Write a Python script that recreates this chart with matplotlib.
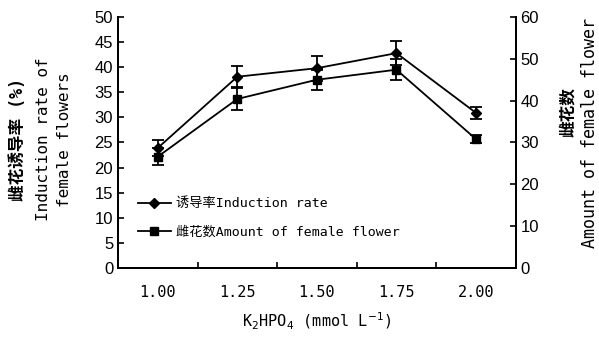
import numpy as np
import matplotlib.pyplot as plt

# data
conc = ["1.00", "1.25", "1.50", "1.75", "2.00"]
rate = [23.9, 38.1, 39.8, 42.8, 30.9]
rate_err = [1.6, 2.1, 2.5, 2.4, 1.2]
amount = [26.6, 40.4, 45.0, 47.4, 30.8]
amount_err = [2.0, 2.6, 2.4, 2.5, 1.0]

mono = ['DejaVu Sans Mono', 'Noto Sans CJK SC']
plt.rcParams['font.family'] = ['Liberation Sans', 'Noto Sans CJK SC']

fig = plt.figure(figsize=(5.99, 3.40), dpi=100)
ax = fig.add_axes([0.197, 0.212, 0.664, 0.738])
ax2 = ax.twinx()

x = np.arange(len(conc))

ax.errorbar(x, rate, yerr=rate_err, color='black', lw=1.3, capsize=4,
            capthick=1.3, elinewidth=1.3, fmt='none')
l1, = ax.plot(x, rate, color='black', lw=1.3, marker='D', ms=5)
ax2.errorbar(x, amount, yerr=amount_err, color='black', lw=1.3, capsize=4,
             capthick=1.3, elinewidth=1.3, fmt='none')
l2, = ax2.plot(x, amount, color='black', lw=1.3, marker='s', ms=6)

ax.set_xlim(-0.5, len(conc) - 0.5)
ax.set_ylim(0, 50)
ax2.set_ylim(0, 60)
ax.set_yticks(np.arange(0, 51, 5))
ax2.set_yticks(np.arange(0, 61, 10))

ax.set_xticks(x)
ax.set_xticklabels(conc, family=mono, fontsize=11)
ax.set_xticks(np.arange(0.5, len(conc) - 1, 1), minor=True)
ax.tick_params(axis='x', which='major', length=0, pad=12)
ax.tick_params(axis='x', which='minor', direction='in', length=4, width=1.2)
ax.tick_params(axis='y', direction='in', length=4, width=1.2, labelsize=12)
ax2.tick_params(axis='y', direction='in', length=4, width=1.2, labelsize=12)

for a in (ax, ax2):
    a.spines['top'].set_visible(False)
    for s in ('left', 'right', 'bottom'):
        a.spines[s].set_linewidth(1.4)

ax.set_xlabel("K$_2$HPO$_4$ (mmol L$^{-1}$)", family=mono, fontsize=11, labelpad=8)

fig.text(0.03, 0.59, "雌花诱导率 (%)", rotation=90, ha='center', va='center',
         fontsize=12, family=mono, fontweight='bold')
fig.text(0.072, 0.59, "Induction rate of", rotation=90, ha='center', va='center',
         fontsize=11.5, family=mono)
fig.text(0.108, 0.59, "female flowers", rotation=90, ha='center', va='center',
         fontsize=11.5, family=mono)
fig.text(0.948, 0.67, "雌花数", rotation=90, ha='center', va='center',
         fontsize=12, family=mono, fontweight='bold')
fig.text(0.985, 0.61, "Amount of female flower", rotation=90, ha='center',
         va='center', fontsize=12, family=mono)

leg = ax.legend([l1, l2], ["诱导率Induction rate", "雌花数Amount of female flower"],
                loc='lower left', bbox_to_anchor=(0.02, 0.07), frameon=False,
                prop={'family': mono, 'size': 9.5}, handlelength=2.5,
                labelspacing=1.15, handletextpad=0.4)

fig.savefig("out.png", dpi=100)
